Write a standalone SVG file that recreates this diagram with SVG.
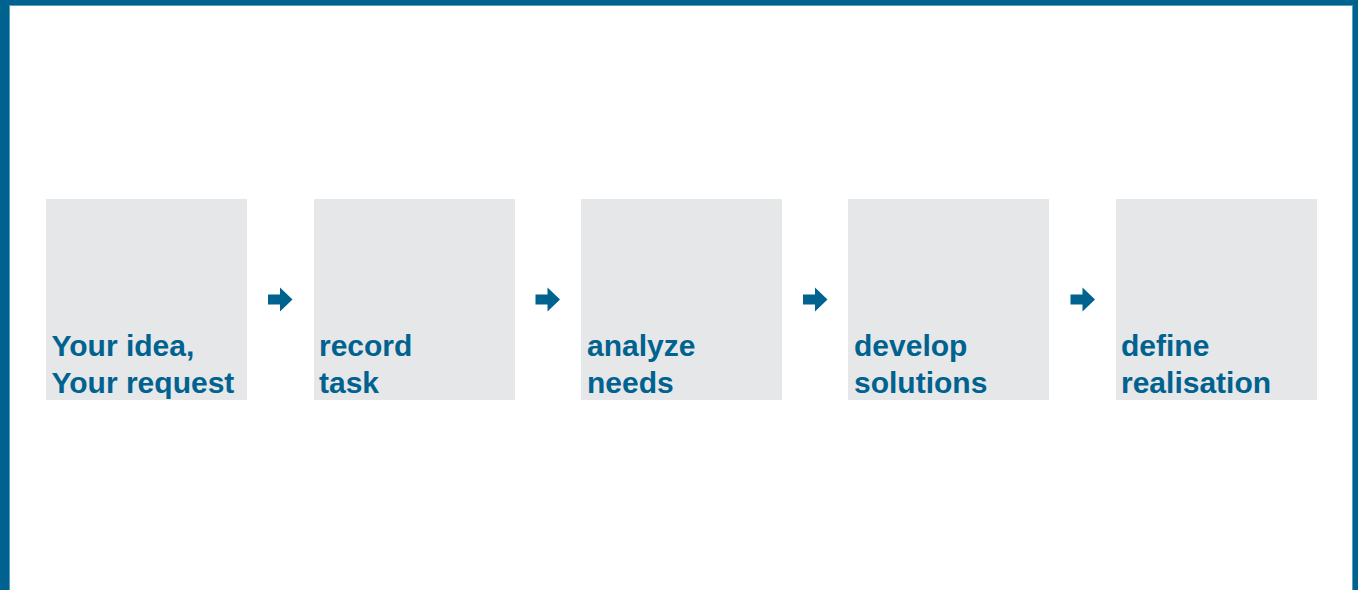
<svg xmlns="http://www.w3.org/2000/svg" width="1358" height="590" viewBox="0 0 1358 590">
<style>
.box{fill:#e6e7e9}
.lbl{font-family:"Liberation Sans",Arial,sans-serif;font-weight:bold;font-size:30px;fill:#00628f}
.arr{fill:#00628f}
</style>
<defs>
<path id="arrow" d="M0 -5 H12 V-12 L24.5 0 L12 12 V5 H0 Z"/>
</defs>
<rect x="0" y="0" width="1358" height="590" fill="#ffffff"/>
<g id="frame">
<rect x="0" y="0" width="1358" height="5" fill="#00628f"/>
<rect x="0" y="0" width="9" height="590" fill="#00628f"/>
<rect x="1353" y="0" width="5" height="590" fill="#00628f"/>
<rect x="9" y="5" width="1344" height="1" fill="#5a9ec0"/>
<rect x="9" y="5" width="1" height="585" fill="#5a9ec0"/>
<rect x="1352" y="5" width="1" height="585" fill="#5a9ec0"/>
</g>
<g id="node1"><rect class="box" x="46" y="199" width="201" height="201"/><text class="lbl" x="51.5" y="356">Your idea,</text><text class="lbl" x="51.5" y="393">Your request</text></g>
<g id="node2"><rect class="box" x="314" y="199" width="201" height="201"/><text class="lbl" x="319" y="356">record</text><text class="lbl" x="319" y="393">task</text></g>
<g id="node3"><rect class="box" x="581" y="199" width="201" height="201"/><text class="lbl" x="587" y="356">analyze</text><text class="lbl" x="587" y="393">needs</text></g>
<g id="node4"><rect class="box" x="848" y="199" width="201" height="201"/><text class="lbl" x="854" y="356">develop</text><text class="lbl" x="854" y="393">solutions</text></g>
<g id="node5"><rect class="box" x="1116" y="199" width="201" height="201"/><text class="lbl" x="1121" y="356">define</text><text class="lbl" x="1121" y="393">realisation</text></g>
<g id="connectors">
<use href="#arrow" class="arr" x="268" y="299.5"/>
<use href="#arrow" class="arr" x="535.5" y="299.5"/>
<use href="#arrow" class="arr" x="803" y="299.5"/>
<use href="#arrow" class="arr" x="1070.5" y="299.5"/>
</g>
</svg>
